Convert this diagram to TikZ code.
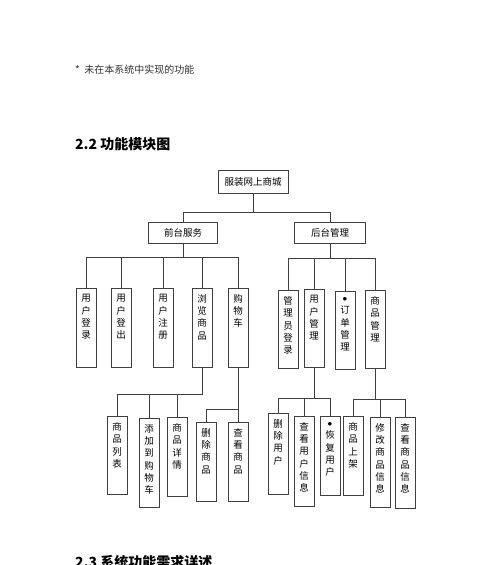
\documentclass[tikz,border=0pt]{standalone}
\usepackage{fontspec}
\setmainfont{Noto Sans CJK SC}
\usetikzlibrary{positioning}

\newcommand{\vlab}[2]{\parbox[t][\dimexpr#1-12pt\relax][t]{12pt}{\centering #2}}

\begin{document}
\begin{tikzpicture}[x = 1pt, y = -1pt,
    module/.style = {draw = black!75, line width = 0.8pt, inner sep = 0pt, font = \fontsize{9.5}{11}\selectfont},
    leaf/.style = {draw = black!75, line width = 0.8pt, anchor = north, minimum width = 20pt, inner xsep = 0pt, inner ysep = 6pt, font = \fontsize{9.5}{12.3}\selectfont},
    link/.style = {draw = black!75, line width = 0.8pt},
    heading/.style = {font = \fontsize{14}{16}\selectfont\bfseries, inner sep = 0pt},
    ]
    \useasboundingbox[fill = white] (0, 0) rectangle (500, 565);

    \node[anchor = west, inner sep = 0pt, text = black!80, font = \fontsize{10}{12}\selectfont] (note) at (75, 70) {*\ \ 未在本系统中实现的功能};
    \node[heading, anchor = west] (h22) at (75, 144) {2.2 功能模块图};
    \node[heading, anchor = north west] (h23) at (75, 555) {2.3 系统功能需求详述};

    \node[module, minimum width = 70pt, minimum height = 23pt] (root) at (253, 181.5) {服装网上商城};
    \node[module, minimum width = 69pt, minimum height = 21pt] (front) at (183, 232.5) {前台服务};
    \node[module, minimum width = 71pt, minimum height = 21pt] (back) at (330, 232.5) {后台管理};

    \node[leaf] (fa) at (86, 288) {\vlab{79pt}{用\\户\\登\\录}};
    \node[leaf] (fb) at (121, 288) {\vlab{79pt}{用\\户\\登\\出}};
    \node[leaf] (fc) at (163, 288) {\vlab{79pt}{用\\户\\注\\册}};
    \node[leaf] (fd) at (202, 288) {\vlab{79pt}{浏\\览\\商\\品}};
    \node[leaf] (fe) at (238, 288) {\vlab{79pt}{购\\物\\车}};

    \node[leaf] (ba) at (288, 290) {\vlab{78pt}{管\\理\\员\\登\\录}};
    \node[leaf] (bb) at (314, 289) {\vlab{78pt}{用\\户\\管\\理}};
    \node[leaf] (bc) at (345, 291) {\vlab{78pt}{$\bullet$\\订\\单\\管\\理}};
    \node[leaf] (bd) at (375, 290) {\vlab{78pt}{商\\品\\管\\理}};

    \node[leaf] (da) at (117, 416) {\vlab{78pt}{商\\品\\列\\表}};
    \node[leaf] (db) at (149, 418) {\vlab{89pt}{添\\加\\到\\购\\物\\车}};
    \node[leaf] (dc) at (177, 417) {\vlab{79pt}{商\\品\\详\\情}};
    \node[leaf] (ea) at (206, 422) {\vlab{79pt}{删\\除\\商\\品}};
    \node[leaf] (eb) at (238, 422) {\vlab{79pt}{查\\看\\商\\品}};

    \node[leaf] (ua) at (278, 413) {\vlab{81pt}{删\\除\\用\\户}};
    \node[leaf] (ub) at (304, 416) {\vlab{90pt}{查\\看\\用\\户\\信\\息}};
    \node[leaf] (uc) at (330, 416) {\vlab{79pt}{$\bullet$\\恢\\复\\用\\户}};
    \node[leaf] (ga) at (353, 416) {\vlab{79pt}{商\\品\\上\\架}};
    \node[leaf] (gb) at (380, 417) {\vlab{90pt}{修\\改\\商\\品\\信\\息}};
    \node[leaf] (gc) at (405, 417) {\vlab{91pt}{查\\看\\商\\品\\信\\息}};

    \coordinate (bus0) at (0, 212);
    \coordinate (bus1) at (0, 257);
    \coordinate (bus2) at (0, 258);
    \coordinate (bus3) at (0, 394);
    \coordinate (bus4) at (0, 409);
    \coordinate (bus5) at (0, 398);
    \coordinate (bus6) at (0, 399);

    % top level
    \path[link] (root.south) -- (root.south |- bus0);
    \path[link] (front.north) |- (back.north |- bus0) -- (back.north);

    % front and back
    \path[link] (front.south) -- (front.south |- bus1);
    \path[link] (fa.north |- bus1) -- (fe.north |- bus1);
    \foreach \c in {fa, fb, fc, fd, fe}
        \path[link] (\c.north) -- (\c.north |- bus1);
    \path[link] (back.south) -- (back.south |- bus2);
    \path[link] (ba.north |- bus2) -- (bd.north |- bus2);
    \foreach \c in {ba, bb, bc, bd}
        \path[link] (\c.north) -- (\c.north |- bus2);

    % third level
    \path[link] (fd.south) |- (da.north |- bus3);
    \foreach \c in {da, db, dc}
        \path[link] (\c.north) -- (\c.north |- bus3);
    \path[link] (fe.south) -- (eb.north);
    \path[link] (ea.north) |- (fe.south |- bus4);
    \path[link] (bb.south) -- (bb.south |- bus5);
    \path[link] (ua.north |- bus5) -- (uc.north |- bus5);
    \foreach \c in {ua, ub, uc}
        \path[link] (\c.north) -- (\c.north |- bus5);
    \path[link] (bd.south) -- (bd.south |- bus6);
    \path[link] (ga.north |- bus6) -- (gc.north |- bus6);
    \foreach \c in {ga, gb, gc}
        \path[link] (\c.north) -- (\c.north |- bus6);
\end{tikzpicture}
\end{document}
